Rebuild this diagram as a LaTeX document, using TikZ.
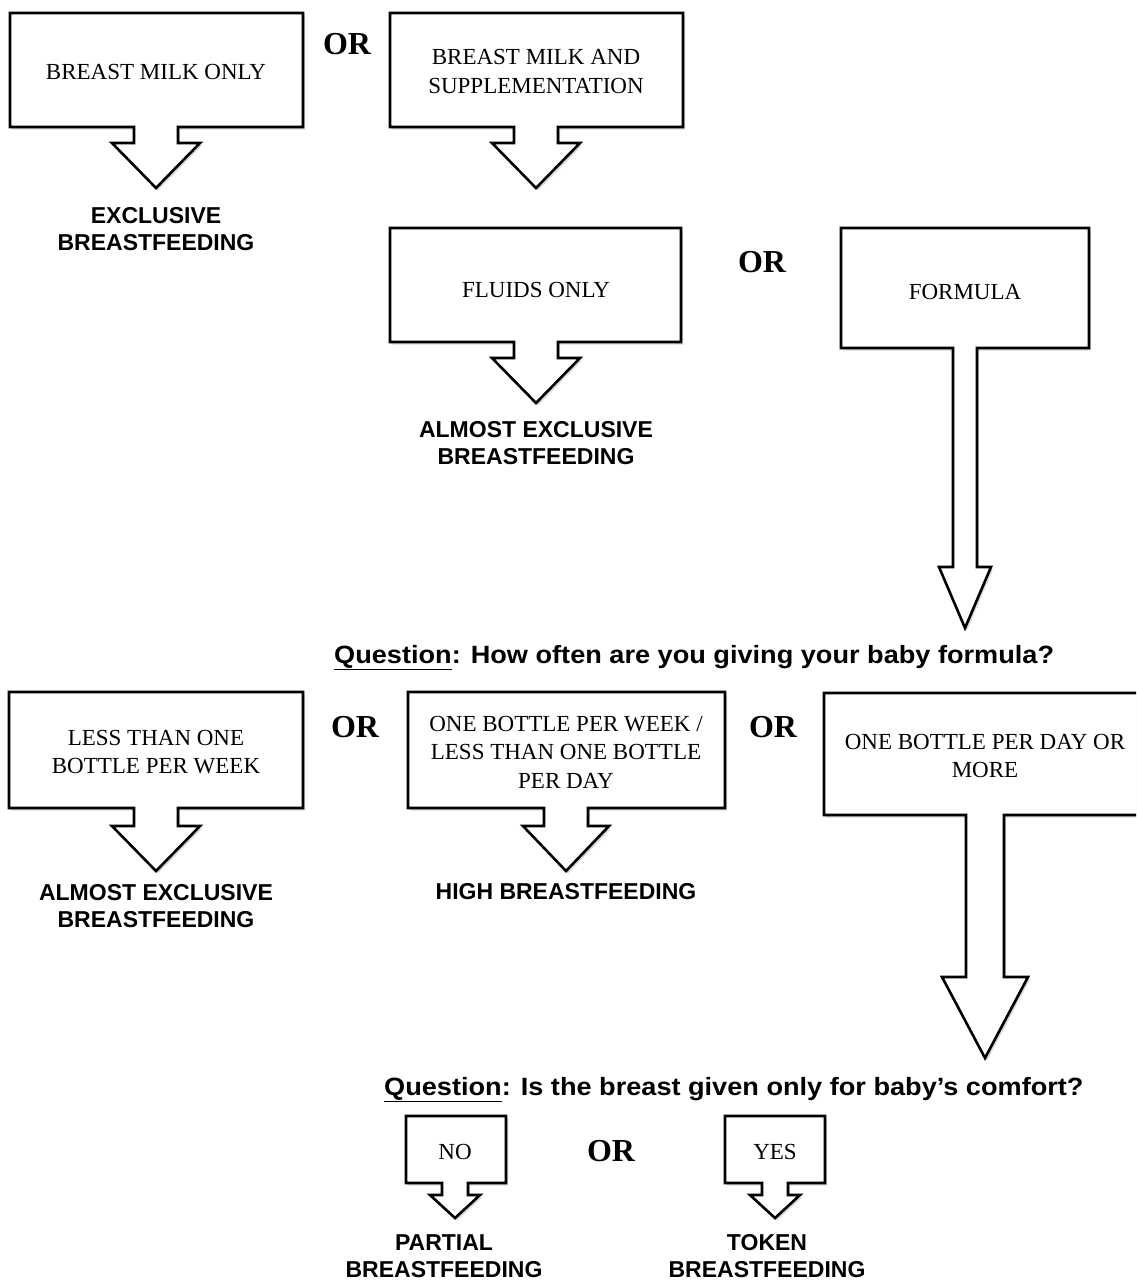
\documentclass[tikz,border=0pt]{standalone}
\usepackage{fontspec}
\usepackage{graphicx}
\setmainfont{Liberation Serif}
\newfontfamily\lsans{Liberation Sans}
\usetikzlibrary{shadows}
\newcommand{\callbox}[9]{%
  % #1 L, #2 T, #3 R, #4 B, #5 half shaft, #6 shaft bottom, #7 half wing, #8 tip y, #9 centre x
  \draw[cbox] (#1,#2) -- (#3,#2) -- (#3,#4) -- (#9+#5,#4) -- (#9+#5,#6) -- (#9+#7,#6)
    -- (#9,#8) -- (#9-#7,#6) -- (#9-#5,#6) -- (#9-#5,#4) -- (#1,#4) -- cycle;}
\newcommand{\qline}[1]{\scalebox{1.085}[1]{#1}}
\begin{document}
\begin{tikzpicture}[x=1pt,y=-1pt,
  cbox/.style={line width=2.6pt, line join=miter, fill=white,
    drop shadow={shadow xshift=2pt, shadow yshift=-2.5pt, opacity=0.25, fill=black!60}},
  boxtxt/.style={inner sep=0pt, align=center, font=\fontsize{23}{28.5}\selectfont},
  lbl/.style={inner sep=0pt, align=center, font=\lsans\bfseries\fontsize{23}{27}\selectfont},
  ortxt/.style={inner sep=0pt, anchor=base, font=\bfseries\fontsize{32}{36}\selectfont},
  qtxt/.style={inner sep=0pt, anchor=base west, font=\lsans\bfseries\fontsize{25}{29}\selectfont}]
\useasboundingbox (0,0) rectangle (1136,1282);
\clip (0,0) rectangle (1136,1282);
\fill[white] (0,0) rectangle (1136,1282);

% callout shapes
\callbox{10}{13}{303}{127}{22}{143}{44}{188}{156}
\callbox{390}{13}{683}{127}{22}{143}{44}{188}{536}
\callbox{390}{228}{681}{342}{22}{358}{44}{403}{536}
\callbox{841}{228}{1089}{348}{12}{567}{26}{628}{965}
\callbox{9}{692}{303}{808}{22}{826}{44}{871}{156}
\callbox{408}{692}{725}{808}{22}{826}{43}{871}{566}
\callbox{824}{693}{1170}{815}{19}{977}{43}{1058}{985}
\callbox{406}{1116}{506}{1183}{13}{1195}{25}{1218}{455}
\callbox{725}{1116}{825}{1183}{13}{1195}{25}{1218}{775}

% box texts
\node[boxtxt] (bmo) at (156,72) {BREAST MILK ONLY};
\node[boxtxt] (bms) at (536,71.5) {BREAST MILK AND\\SUPPLEMENTATION};
\node[boxtxt] (flu) at (536,289.5) {FLUIDS ONLY};
\node[boxtxt] (frm) at (965,292) {FORMULA};
\node[boxtxt] (lto) at (156,752) {LESS THAN ONE\\BOTTLE PER WEEK};
\node[boxtxt] (obw) at (566,752) {ONE BOTTLE PER WEEK /\\LESS THAN ONE BOTTLE\\PER DAY};
\node[boxtxt] (obd) at (985,756) {ONE BOTTLE PER DAY OR\\MORE};
\node[boxtxt] (no) at (455,1152) {NO};
\node[boxtxt] (yes) at (775,1152) {YES};

% outcome labels
\node[lbl] (exb) at (156,229.5) {EXCLUSIVE\\BREASTFEEDING};
\node[lbl] (aeb1) at (536,443) {ALMOST EXCLUSIVE\\BREASTFEEDING};
\node[lbl] (aeb2) at (156,906) {ALMOST EXCLUSIVE\\BREASTFEEDING};
\node[lbl] (hb) at (566,892) {HIGH BREASTFEEDING};
\node[lbl] (pb) at (444,1256) {PARTIAL\\BREASTFEEDING};
\node[lbl] (tb) at (767,1256) {TOKEN\\BREASTFEEDING};

% OR words
\node[ortxt] (or1) at (347,54) {OR};
\node[ortxt] (or2) at (762,272) {OR};
\node[ortxt] (or3) at (355,737) {OR};
\node[ortxt] (or4) at (773,737) {OR};
\node[ortxt] (or5) at (611,1161) {OR};

% questions
\node[qtxt] (q1) at (334,663) {\qline{\underline{Question}: How often are you giving your baby formula?}};
\node[qtxt] (q2) at (384,1095) {\qline{\underline{Question}: Is the breast given only for baby’s comfort?}};
\end{tikzpicture}
\end{document}
